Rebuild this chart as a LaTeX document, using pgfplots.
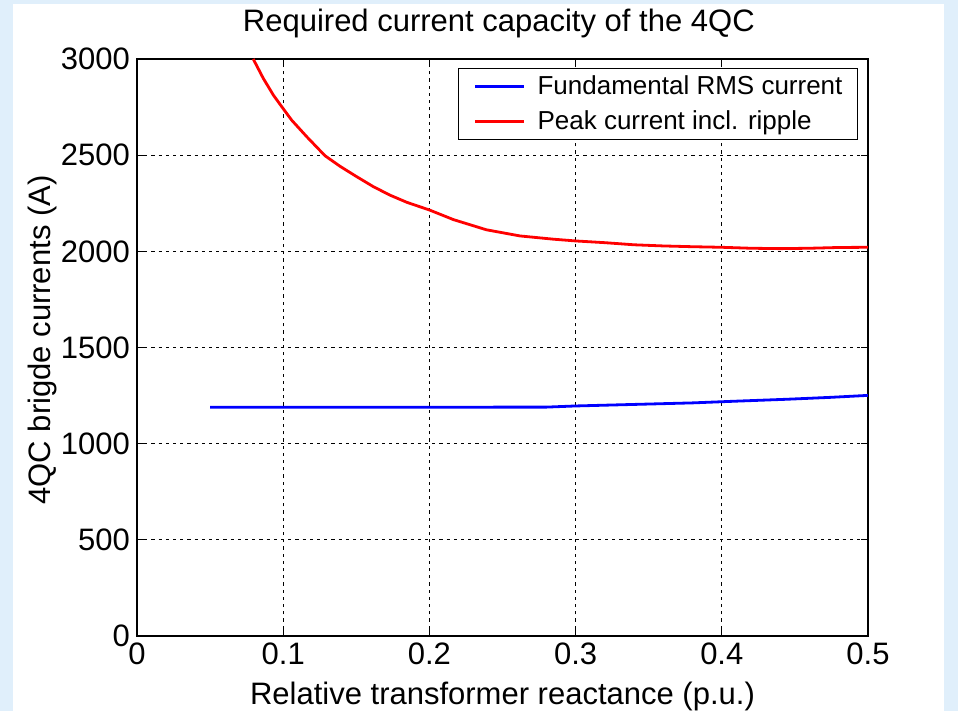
\documentclass[border=0pt]{standalone}
\usepackage{fontspec}
\setmainfont{Liberation Sans}
\usepackage{pgfplots}
\pgfplotsset{compat=1.18}
\definecolor{slidebg}{HTML}{E0EFFB}
\definecolor{mblue}{RGB}{0,0,255}
\definecolor{mred}{RGB}{255,0,0}
\newcommand{\bigf}{\fontsize{15.5pt}{18pt}\selectfont}
\newcommand{\legf}{\fontsize{13pt}{15pt}\selectfont}
\begin{document}
\begin{tikzpicture}
\useasboundingbox (0,0) rectangle (479pt,355.5pt);
\fill[slidebg] (0,0) rectangle (479pt,355.5pt);
\fill[white] (6.5pt,0) rectangle (472pt,353.25pt);
\begin{axis}[
  at={(68.5pt,37.5pt)}, anchor=south west,
  scale only axis, width=365.5pt, height=288.5pt,
  xmin=0, xmax=0.5, ymin=0, ymax=3000,
  xtick={0,0.1,0.2,0.3,0.4,0.5},
  xticklabels={0,0.1,0.2,0.3,0.4,0.5},
  ytick={0,500,1000,1500,2000,2500,3000},
  yticklabels={0,500,1000,1500,2000,2500,3000},
  tick label style={font=\bigf},
  /pgf/number format/assume math mode=true,
  tick align=inside, major tick length=3.5pt,
  tick style={black, line width=0.5pt},
  axis line style={black, line width=0.6pt},
  grid=major,
  major grid style={black, line width=0.5pt, dash pattern=on 1.6pt off 2pt},
  every axis title shift=0pt,
  title={Required current capacity of the 4QC},
  title style={at={(axis description cs:0.495,1.0468)}, anchor=base, font=\bigf},
  xlabel={Relative transformer reactance (p.u.)},
  xlabel style={at={(axis description cs:0.5,-0.1179)}, anchor=base, font=\bigf},
  ylabel={4QC brigde currents (A)},
  ylabel style={at={(axis description cs:-0.119,0.513)}, anchor=base, font=\bigf},
  legend cell align=left,
  legend image code/.code={\draw[#1] (0pt,0pt) -- (24.5pt,0pt);},
  legend style={at={(axis description cs:0.9863,0.9844)}, anchor=north east,
    draw=black, line width=0.5pt, fill=white, font=\legf,
    inner xsep=7.5pt, inner ysep=3.5pt, row sep=6.5pt,
    nodes={inner sep=0pt},
    /tikz/every odd column/.style={column sep=6pt}},
]
\addplot[mblue, line width=1.4pt] coordinates {
  (0.05,1189) (0.28,1190) (0.30,1196) (0.34,1204) (0.38,1212)
  (0.41,1221) (0.445,1231) (0.475,1241) (0.50,1251)
};
\addlegendentry{Fundamental RMS current}
\addplot[mred, line width=1.4pt] coordinates {
  (0.0795,3000) (0.0864,2899) (0.0933,2812) (0.0990,2752) (0.1058,2682)
  (0.1161,2596) (0.1286,2497) (0.1389,2442) (0.1503,2388) (0.1617,2336)
  (0.1731,2292) (0.1845,2255) (0.2000,2215) (0.2164,2165) (0.2390,2112)
  (0.2620,2080) (0.2850,2063) (0.3000,2054) (0.3200,2045) (0.3400,2034)
  (0.3600,2028) (0.3800,2024) (0.4000,2021) (0.4200,2016) (0.4400,2014)
  (0.4600,2016) (0.4800,2020) (0.5000,2021)
};
\addlegendentry{Peak current incl. ripple}
\end{axis}
\end{tikzpicture}
\end{document}
